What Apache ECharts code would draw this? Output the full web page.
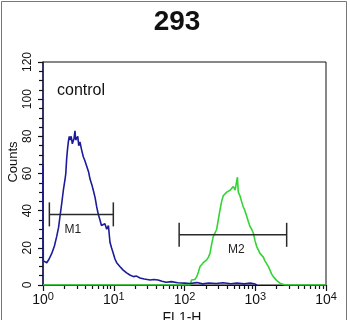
<!DOCTYPE html>
<html><head><meta charset="utf-8">
<script src="https://cdn.jsdelivr.net/npm/echarts@6/dist/echarts.min.js"></script>
<style>html,body{margin:0;padding:0;background:#fff}#c{width:350px;height:320px}</style>
</head><body><div id="c"></div>
<script>
const titleText = '293';
const sampleLabel = 'control';
const xName = 'FL1-H';
const yName = 'Counts';
const xTickValues = [1, 10, 100, 1000, 10000];
const xTickExponents = ['0', '1', '2', '3', '4'];
const yTickValues = [0, 20, 40, 60, 80, 100, 120];

// control histogram (blue): [FL1-H, counts]
const controlSeries = [
  [1, 65], [1.01, 13], [1.06, 12], [1.13, 12], [1.22, 14], [1.33, 17], [1.45, 21], [1.56, 26],
  [1.66, 31], [1.74, 37], [1.84, 44], [1.94, 51], [2.05, 57], [2.10, 60], [2.16, 68], [2.22, 73],
  [2.28, 77], [2.35, 80], [2.41, 78], [2.5, 80], [2.6, 76], [2.68, 75], [2.75, 79], [2.83, 83],
  [2.9, 78], [2.99, 77], [3.1, 80], [3.2, 75], [3.33, 77], [3.5, 73], [3.71, 69], [3.9, 67],
  [4.15, 66], [4.4, 61], [4.62, 57], [4.9, 54], [5.14, 51], [5.45, 47], [5.74, 42], [6.05, 38],
  [6.39, 35], [6.7, 32], [7.13, 31], [7.5, 33], [7.95, 30], [8.4, 32], [8.85, 23], [9.3, 20],
  [9.86, 17], [10.4, 14], [11.0, 12], [12.2, 10], [13.6, 8], [15.2, 6.5], [16.9, 5.4], [19, 4.5],
  [21, 4.8], [23.5, 3.8], [27, 3.2], [32.7, 2.7], [37, 3], [42.2, 2.7], [48, 2], [55, 1.5],
  [65, 1.8], [80, 1.2], [100, 1], [120, 0.8], [150, 1.3], [180, 0.6], [220, 1.1], [280, 0.8],
  [350, 1.2], [450, 0.7], [550, 1], [700, 0.6], [850, 1], [1000, 0.5], [1050, 0]
];

// sample histogram (green): [FL1-H, counts]
const sampleSeries = [
  [1, 0], [120, 0], [126, 2.7], [140, 3], [149, 4.5], [157, 7], [166, 10], [175, 11], [184, 12],
  [195, 13], [206, 13.5], [218, 15], [229, 17], [242, 22], [255, 26], [270, 28], [285, 30],
  [300, 35], [318, 40.5], [335, 45], [353, 48], [375, 47], [395, 50], [418, 49], [440, 51],
  [465, 52], [490, 53], [520, 51], [547, 56], [560, 58], [576, 50], [608, 48], [640, 45],
  [678, 42], [715, 40], [757, 37], [800, 34], [843, 31.5], [890, 30], [938, 28], [990, 24],
  [1047, 20.7], [1100, 19], [1166, 17], [1230, 16], [1300, 15], [1370, 13], [1452, 12],
  [1530, 10], [1615, 8], [1700, 6], [1800, 4.5], [2000, 2.5], [2238, 1], [2630, 0], [10000, 0]
];

// gate markers
const markerNames = ['M1', 'M2'];
const markerStart = [1.23, 84];
const markerEnd = [9.86, 2780];
const markerLevel = [38, 27];
const markerLabelX = [2.65, 540];

const minorTicks = [];
for (let d = 1; d < 10000; d *= 10) for (let k = 2; k <= 9; k++) minorTicks.push(d * k);

const markerData = markerNames.map((n, i) => [markerStart[i], markerEnd[i], markerLevel[i], markerLabelX[i], n]);

const chart = echarts.init(document.getElementById('c'), null, {renderer: 'canvas'});
const FONT = 'Liberation Sans, Arial, sans-serif';
chart.setOption({
  animation: false,
  backgroundColor: '#fff',
  title: {
    text: titleText, left: 172, top: 3, textAlign: 'center',
    textStyle: {fontFamily: FONT, fontSize: 28, fontWeight: 'bold', color: '#111'}
  },
  grid: {left: 43, right: 24, top: 62, bottom: 35, show: true, borderColor: '#111', borderWidth: 1, backgroundColor: 'transparent'},
  xAxis: [{
    type: 'log', logBase: 10, min: 1, max: 10000, position: 'bottom',
    axisLine: {show: true, lineStyle: {color: '#111', width: 1}},
    axisTick: {show: true, customValues: xTickValues, length: 6, inside: false, lineStyle: {color: '#111', width: 1.2}},
    splitLine: {show: false},
    axisLabel: {
      customValues: xTickValues, margin: 6, color: '#111',
      formatter: (v) => { const i = xTickValues.indexOf(v); return '{b|10}{s|' + (i >= 0 ? xTickExponents[i] : '') + '}'; },
      rich: {
        b: {fontFamily: FONT, fontSize: 14, color: '#111', verticalAlign: 'bottom', lineHeight: 16},
        s: {fontFamily: FONT, fontSize: 11, color: '#111', verticalAlign: 'top', padding: [0, 0, 8, 0], lineHeight: 16}
      }
    }
  }, {
    type: 'log', logBase: 10, min: 1, max: 10000, position: 'bottom', gridIndex: 0,
    axisLine: {show: false},
    axisTick: {show: true, customValues: minorTicks, length: 4, lineStyle: {color: '#111', width: 1.2}},
    axisLabel: {show: false},
    splitLine: {show: false}
  }],
  yAxis: {
    type: 'value', min: 0, max: 120, interval: 20,
    axisLine: {show: true, lineStyle: {color: '#1a1a60', width: 1.5}},
    axisTick: {show: true, length: 5, lineStyle: {color: '#111', width: 1.2}},
    minorTick: {show: true, splitNumber: 4, length: 4, lineStyle: {color: '#111', width: 1.2}},
    splitLine: {show: false},
    axisLabel: {
      customValues: yTickValues, rotate: 90, margin: 9, color: '#111',
      fontFamily: FONT, fontSize: 12
    }
  },
  graphic: [
    {type: 'rect', shape: {x: 1.5, y: 1.5, width: 345, height: 330}, style: {fill: 'none', stroke: '#777', lineWidth: 1}, silent: true},
    {type: 'text', x: 57, y: 91, style: {text: sampleLabel, font: '16px ' + FONT, fill: '#111', textVerticalAlign: 'middle'}},
    {type: 'text', x: 13, y: 162, rotation: Math.PI / 2, style: {text: yName, font: '13px ' + FONT, fill: '#111', textAlign: 'center', textVerticalAlign: 'middle'}},
    {type: 'text', x: 182, y: 311, style: {text: xName, font: '14px ' + FONT, fill: '#111', textAlign: 'center', textVerticalAlign: 'top'}}
  ],
  series: [{
    type: 'line', name: 'sample', data: sampleSeries, xAxisIndex: 0, showSymbol: false, symbol: 'none',
    lineStyle: {color: '#35d435', width: 1.6}, z: 3
  }, {
    type: 'line', name: 'control', data: controlSeries, xAxisIndex: 0, showSymbol: false, symbol: 'none',
    lineStyle: {color: '#1c1c9a', width: 1.6}, z: 4
  }, {
    type: 'custom', name: 'markers', data: markerData, xAxisIndex: 0, z: 5,
    renderItem: (params, api) => {
      const p0 = api.coord([api.value(0), api.value(2)]);
      const p1 = api.coord([api.value(1), api.value(2)]);
      const pl = api.coord([api.value(3), api.value(2)]);
      const st = {stroke: '#2a2a2a', lineWidth: 1.5};
      return {type: 'group', children: [
        {type: 'line', shape: {x1: p0[0], y1: p0[1], x2: p1[0], y2: p1[1]}, style: st},
        {type: 'line', shape: {x1: p0[0], y1: p0[1] - 12, x2: p0[0], y2: p0[1] + 12}, style: st},
        {type: 'line', shape: {x1: p1[0], y1: p1[1] - 12, x2: p1[0], y2: p1[1] + 12}, style: st},
        {type: 'text', x: pl[0], y: pl[1] + 15, style: {text: markerNames[params.dataIndex], font: '12px ' + FONT, fill: '#222', textAlign: 'center', textVerticalAlign: 'middle'}}
      ]};
    }
  }]
});
</script></body></html>
